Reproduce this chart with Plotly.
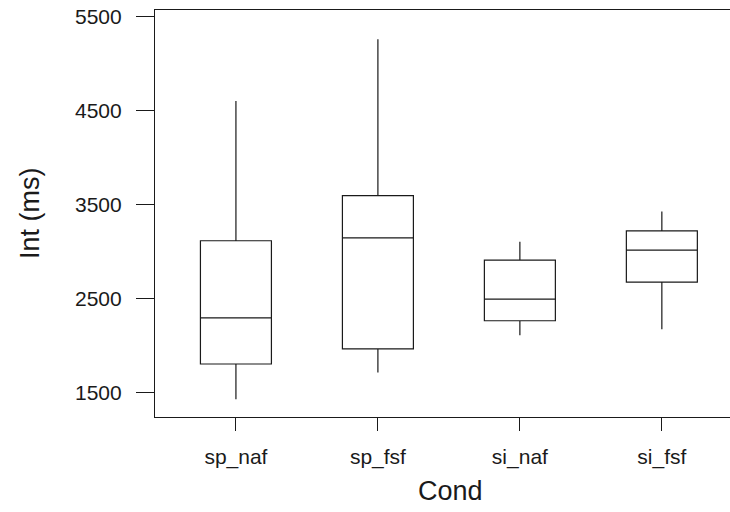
import plotly.graph_objects as go

# Interval durations (ms) per condition: five-number summaries
conditions = ["sp_naf", "sp_fsf", "si_naf", "si_fsf"]
lower_whisker = [1430, 1715, 2110, 2175]
q1_values = [1805, 1965, 2265, 2675]
median_values = [2295, 3145, 2495, 3015]
q3_values = [3115, 3595, 2910, 3220]
upper_whisker = [4600, 5255, 3105, 3425]

y_tick_values = [1500, 2500, 3500, 4500, 5500]
y_tick_labels = ["1500", "2500", "3500", "4500", "5500"]

ink = "#1a1a1a"
font_family = "Liberation Sans, Arial, Helvetica, sans-serif"

fig = go.Figure()
fig.add_trace(go.Box(
    x=conditions,
    q1=q1_values,
    median=median_values,
    q3=q3_values,
    lowerfence=lower_whisker,
    upperfence=upper_whisker,
    width=0.5,
    line=dict(color=ink, width=1.2),
    fillcolor="rgba(255,255,255,0)",
    boxpoints=False,
    whiskerwidth=0,
    hoverinfo="skip",
    showlegend=False,
))

fig.update_layout(
    width=730,
    height=512,
    margin=dict(l=155, r=0, t=10, b=95),
    paper_bgcolor="white",
    plot_bgcolor="white",
    font=dict(family=font_family, color=ink, size=21),
    xaxis=dict(
        type="category",
        range=[-0.57, 3.48],
        showline=True,
        linecolor=ink,
        linewidth=1.2,
        mirror=True,
        ticks="outside",
        ticklen=13,
        tickwidth=1,
        tickcolor=ink,
        showgrid=False,
        zeroline=False,
        tickfont=dict(size=21),
        ticklabelstandoff=8,
    ),
    yaxis=dict(
        range=[1242, 5567],
        tickvals=y_tick_values,
        ticktext=y_tick_labels,
        showline=True,
        linecolor=ink,
        linewidth=1.2,
        ticks="outside",
        ticklen=18,
        tickwidth=1.2,
        tickcolor=ink,
        showgrid=False,
        zeroline=False,
        tickfont=dict(size=21),
        ticklabelstandoff=10,
    ),
    annotations=[
        dict(text="Cond", xref="paper", yref="paper", x=(450 - 155) / 575,
             y=-(491 - 417) / 407, xanchor="center", yanchor="middle",
             showarrow=False, font=dict(size=27, color=ink)),
        dict(text="Int (ms)", xref="paper", yref="paper", x=-(155 - 30) / 575,
             y=(417 - 213) / 407, xanchor="center", yanchor="middle",
             textangle=-90, showarrow=False, font=dict(size=27, color=ink)),
    ],
)

fig.write_html("out.html")
